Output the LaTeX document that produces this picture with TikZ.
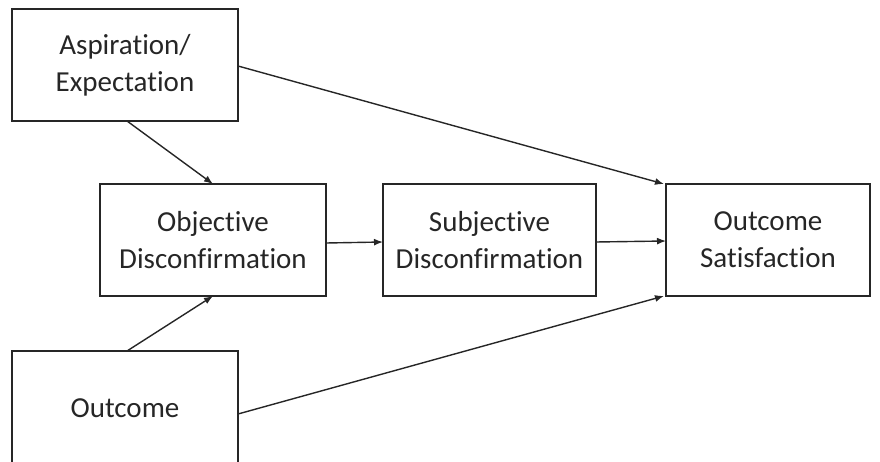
\documentclass[tikz,border=0pt]{standalone}
\usepackage{fontspec}
\setmainfont{Carlito}[Ligatures={NoCommon}]
\usetikzlibrary{arrows.meta}
\begin{document}
\begin{tikzpicture}[x=1pt,y=-1pt,
  box/.style={draw=black!85,line width=1.4pt,rectangle},
  lbl/.style={font=\fontsize{29}{37}\selectfont,text=black!85,align=center},
  conn/.style={draw=black!85,line width=1.4pt,-{Latex[length=9pt,width=7pt]}}]
\useasboundingbox (0,0) rectangle (880,462);
\begin{scope}
\clip (0,0) rectangle (880,462);
\draw[box] (12,9) rectangle (238,121);
\node[lbl] (asp) at (125,65) {Aspiration/\\Expectation};
\draw[box] (100,184) rectangle (326,296);
\node[lbl] (obj) at (213,240) {Objective\\Disconfirmation};
\draw[box] (383,184) rectangle (596,296);
\node[lbl] (sub) at (489.5,240) {Subjective\\Disconfirmation};
\draw[box] (666,184) rectangle (870,296);
\node[lbl] (sat) at (768,240) {Outcome\\Satisfaction};
\draw[box] (12,351) rectangle (238,470);
\node[lbl] (out) at (125,408) {Outcome};
\coordinate (aspB) at (127,121);
\coordinate (aspR) at (238,66);
\coordinate (objT) at (213,184);
\coordinate (objB) at (213,296);
\coordinate (objR) at (326,243);
\coordinate (subL) at (383,242);
\coordinate (subR) at (596,242);
\coordinate (satL) at (666,241);
\coordinate (satTL) at (664,184);
\coordinate (satBL) at (664,296);
\coordinate (outT) at (127,351);
\coordinate (outR) at (238,414);
\draw[conn] (aspB) -- (objT);
\draw[conn] (outT) -- (objB);
\draw[conn] (objR) -- (subL);
\draw[conn] (subR) -- (satL);
\draw[conn] (aspR) -- (satTL);
\draw[conn] (outR) -- (satBL);
\end{scope}
\end{tikzpicture}
\end{document}
